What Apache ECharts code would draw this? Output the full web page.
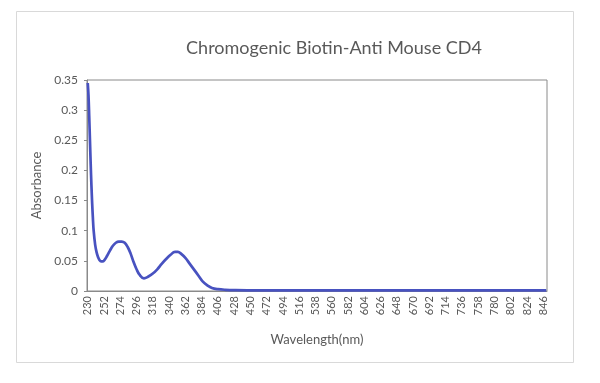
<!DOCTYPE html>
<html>
<head>
<meta charset="utf-8">
<script src="https://cdn.jsdelivr.net/npm/echarts@6/dist/echarts.min.js"></script>
<style>
html,body{margin:0;padding:0;background:#fff;}
#chart{width:600px;height:383px;}
</style>
</head>
<body>
<div id="chart"></div>
<script>
const titleText = 'Chromogenic Biotin-Anti Mouse CD4';
const xName = 'Wavelength(nm)';
const yName = 'Absorbance';
const tickLabels = [230,252,274,296,318,340,362,384,406,428,450,472,494,516,538,560,582,604,626,648,670,692,714,736,758,780,802,824,846];
const wavelength = [230,231,232,233,234,235,236,237,238,240,242,244,246,248,250,253,256,260,264,268,272,276,280,284,288,292,296,300,306,312,318,324,330,336,342,348,352,356,362,368,374,380,386,392,398,406,416,430,460,500,600,700,800,850];
const absorbance = [0.345,0.325,0.29,0.25,0.21,0.175,0.145,0.12,0.10,0.077,0.064,0.056,0.051,0.049,0.049,0.052,0.058,0.067,0.075,0.080,0.082,0.082,0.080,0.073,0.062,0.048,0.036,0.027,0.021,0.024,0.029,0.036,0.045,0.053,0.060,0.065,0.065,0.062,0.055,0.045,0.035,0.025,0.015,0.009,0.005,0.003,0.002,0.0015,0.0012,0.0012,0.0012,0.0012,0.0012,0.0012];

const seriesData = wavelength.map((w, i) => [w, absorbance[i]]);
const chart = echarts.init(document.getElementById('chart'), null, {renderer: 'canvas'});
const font = 'Lato, "Open Sans", sans-serif';
chart.setOption({
  animation: false,
  backgroundColor: '#ffffff',
  textStyle: {fontFamily: font},
  graphic: [
    {type: 'rect', shape: {x: 16.5, y: 11.5, width: 557, height: 351}, style: {fill: null, stroke: '#d9d9d9', lineWidth: 1}, silent: true, z: -1},
    {type: 'text', x: 334, y: 48, style: {text: titleText, fontSize: 18, fontFamily: font, fill: '#595959', align: 'center', verticalAlign: 'middle'}}
  ],
  grid: {left: 87, top: 80, right: 53, bottom: 92, show: true, borderColor: '#8a8a8a', borderWidth: 1, backgroundColor: 'transparent'},
  xAxis: {
    type: 'value', min: 229, max: 851,
    name: xName, nameLocation: 'middle', nameGap: 42,
    nameTextStyle: {fontSize: 13, color: '#595959', fontFamily: font},
    axisLine: {show: true, lineStyle: {color: '#8a8a8a'}},
    axisTick: {show: false},
    splitLine: {show: false},
    axisLabel: {customValues: tickLabels, rotate: 90, fontSize: 11, color: '#595959', margin: 5, fontFamily: font}
  },
  yAxis: {
    type: 'value', min: 0, max: 0.35, interval: 0.05,
    name: yName, nameLocation: 'middle', nameGap: 42,
    nameTextStyle: {fontSize: 13, color: '#595959', fontFamily: font},
    axisLine: {show: true, lineStyle: {color: '#8a8a8a'}},
    axisTick: {show: true, length: 3, lineStyle: {color: '#8a8a8a'}},
    splitLine: {show: false},
    axisLabel: {fontSize: 12, color: '#595959', margin: 9, fontFamily: font}
  },
  series: [{
    type: 'line', data: seriesData, smooth: 0.4, symbol: 'none',
    lineStyle: {width: 2.7, color: '#4852c0'}
  }]
});
</script>
</body>
</html>
